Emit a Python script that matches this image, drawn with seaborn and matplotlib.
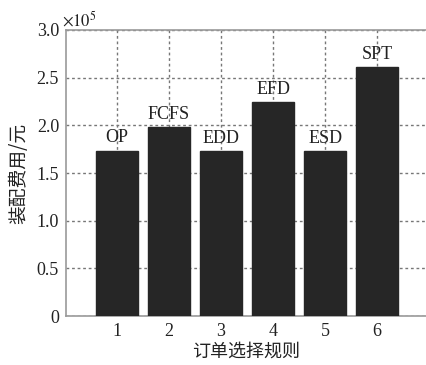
import matplotlib
matplotlib.use("Agg")
import matplotlib.pyplot as plt
import seaborn as sns
import pandas as pd
import numpy as np

rules = ["1", "2", "3", "4", "5", "6"]
rule_names = ["OP", "FCFS", "EDD", "EFD", "ESD", "SPT"]
costs = [173500, 198000, 173000, 224000, 173000, 261000]
ytick_vals = [0, 50000, 100000, 150000, 200000, 250000, 300000]
ytick_labels = ["0", "0.5", "1.0", "1.5", "2.0", "2.5", "3.0"]

sns.set_theme(style="white")
plt.rcParams['font.family'] = ['Liberation Serif', 'Noto Sans CJK SC']
plt.rcParams['mathtext.fontset'] = 'stix'

df = pd.DataFrame({"rule": rules, "cost": costs})

fig = plt.figure(figsize=(4.26, 3.65), dpi=100)
ax = fig.add_axes([0.155, 0.134, 0.845, 0.784])

sns.barplot(data=df, x="rule", y="cost", order=rules, color="#262626",
            width=0.8, saturation=1, edgecolor="#262626", ax=ax, zorder=3)

ax.set_xlim(-0.98, 5.94)
ax.set_ylim(0, 300000)
ax.set_yticks(ytick_vals)
ax.set_yticklabels(ytick_labels)

ax.grid(True, color="#777777", linestyle=(0, (2, 2)), linewidth=1.0, zorder=0)
ax.set_axisbelow(True)

for s in ["left", "top", "bottom"]:
    ax.spines[s].set_color("#999999")
    ax.spines[s].set_linewidth(1.2)
ax.spines["right"].set_visible(False)

ax.tick_params(axis="both", length=0, labelsize=13, colors="#222222", pad=5)

ax.bar_label(ax.containers[0], labels=rule_names, padding=3, fontsize=13,
             color="#222222", zorder=5)

ax.text(-0.01, 1.0, r"$\times10^5$", transform=ax.transAxes, fontsize=12,
        ha="left", va="bottom", color="#222222")

ax.set_xlabel("订单选择规则", fontsize=13, family=['Noto Sans CJK SC'], color="#222222", labelpad=2)
ax.set_ylabel("装配费用/元", fontsize=13.5, family=['Noto Sans CJK SC'], color="#222222", labelpad=5)

fig.savefig("out.png", dpi=100)
